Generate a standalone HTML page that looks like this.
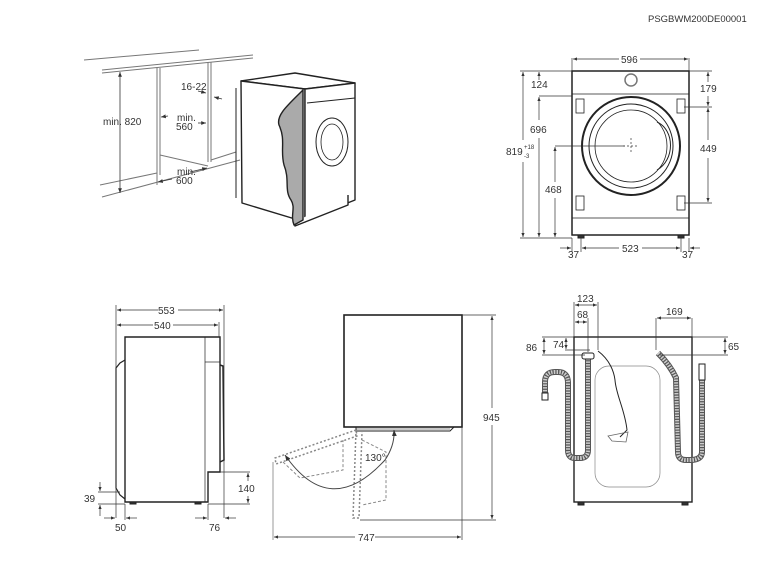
<!DOCTYPE html>
<html><head><meta charset="utf-8"><style>
html,body{margin:0;padding:0;background:#fff;}
svg{display:block;font-family:"Liberation Sans",sans-serif;}
text{font-size:10px;fill:#333;}
</style></head><body>
<svg width="767" height="579" viewBox="0 0 767 579" xmlns="http://www.w3.org/2000/svg">
<defs>
<marker id="a" viewBox="0 0 10 10" refX="10" refY="5" markerWidth="6" markerHeight="6" orient="auto-start-reverse"><path d="M0,1 L10,5 L0,9 z" fill="#333"/></marker>
</defs>
<text x="648" y="22" style="font-size:9.5px">PSGBWM200DE00001</text>

<!-- perspective cabinet -->
<g stroke="#777" stroke-width="1" fill="none">
<line x1="84" y1="60" x2="199" y2="50"/>
<line x1="102" y1="70" x2="253" y2="55"/>
<line x1="102" y1="73" x2="253" y2="58"/>
<line x1="157" y1="68" x2="157" y2="175"/>
<line x1="160" y1="68" x2="160" y2="175"/>
<line x1="208" y1="62" x2="208" y2="162"/>
<line x1="211" y1="62" x2="211" y2="162"/>
<line x1="160" y1="155" x2="208" y2="166"/>
<line x1="211" y1="160" x2="236" y2="152"/>
<line x1="100" y1="185" x2="157" y2="173"/>
<line x1="102" y1="197" x2="240" y2="160"/>
<line x1="157" y1="173" x2="157" y2="185"/>
</g>
<g stroke="#333" stroke-width="0.8" fill="none">
<line x1="120" y1="72" x2="120" y2="193" marker-start="url(#a)" marker-end="url(#a)"/>
<line x1="198" y1="91" x2="206" y2="93" marker-end="url(#a)"/>
<line x1="222" y1="99" x2="214" y2="97" marker-end="url(#a)"/>
<line x1="168" y1="116" x2="161" y2="117" marker-end="url(#a)"/>
<line x1="198" y1="123" x2="206" y2="123" marker-end="url(#a)"/>
<line x1="190" y1="172" x2="207" y2="168" marker-end="url(#a)"/>
<line x1="172" y1="179" x2="158" y2="182" marker-end="url(#a)"/>
</g>
<text x="103" y="125">min. 820</text>
<text x="181" y="90">16-22</text>
<text x="177" y="121">min.</text><text x="176" y="130">560</text>
<text x="177" y="175">min.</text><text x="176" y="184">600</text>

<!-- perspective machine -->
<g stroke="#222" stroke-width="1.4" fill="#fff" stroke-linejoin="round">
<polygon points="241,81 295,73 355,83 305,89"/>
<polygon points="241,81 305,89 305,222 242,203"/>
<polygon points="305,89 355,83 355,200 305,220"/>
<polyline points="348,195 348,205 295,226 295,222"/>
<line x1="307" y1="103" x2="355" y2="98" stroke-width="1"/>
<line x1="236" y1="88" x2="236" y2="198" stroke-width="1"/>
<ellipse cx="332" cy="142" rx="16" ry="24" fill="none" stroke-width="1"/>
<ellipse cx="332" cy="142" rx="11" ry="18" fill="none" stroke-width="0.8"/>
<path d="M303,90 L303,220 L294,225 C290,215 296,208 291,200 C284,190 290,180 284,165 C280,150 286,140 279,125 C276,115 288,105 303,90 Z" fill="#aaa"/>
</g>

<!-- front view -->
<g stroke="#222" fill="none">
<rect x="572" y="71" width="117" height="164" stroke-width="1.5"/>
<line x1="572" y1="94" x2="689" y2="94" stroke-width="0.8"/>
<line x1="572" y1="218" x2="689" y2="218" stroke-width="0.8"/>
<circle cx="631" cy="80" r="6" stroke-width="1.5" stroke="#777"/>
<circle cx="631" cy="146" r="49" stroke-width="2"/>
<circle cx="631" cy="146" r="42" stroke-width="1"/>
<circle cx="631" cy="146" r="36" stroke-width="0.8"/>
<path d="M657,122 C675,130 675,160 657,170" stroke-width="1"/>
<rect x="576" y="99" width="8" height="14" stroke-width="0.8"/>
<rect x="576" y="196" width="8" height="14" stroke-width="0.8"/>
<rect x="677" y="99" width="8" height="14" stroke-width="0.8"/>
<rect x="677" y="196" width="8" height="14" stroke-width="0.8"/>
<rect x="578" y="235" width="6" height="3" fill="#333"/>
<rect x="678" y="235" width="6" height="3" fill="#333"/>
</g>
<g stroke="#333" stroke-width="0.7" fill="none">
<line x1="572" y1="58" x2="572" y2="71"/><line x1="689" y1="58" x2="689" y2="71"/>
<line x1="573" y1="59" x2="619" y2="59" marker-start="url(#a)"/><line x1="640" y1="59" x2="688" y2="59" marker-end="url(#a)"/>
<line x1="520" y1="71" x2="572" y2="71"/><line x1="520" y1="238" x2="572" y2="238"/>
<line x1="523" y1="72" x2="523" y2="140" marker-start="url(#a)"/><line x1="523" y1="162" x2="523" y2="237" marker-end="url(#a)"/>
<line x1="539" y1="96" x2="572" y2="96"/>
<line x1="539" y1="72" x2="539" y2="80" marker-start="url(#a)"/><line x1="539" y1="97" x2="539" y2="120" marker-start="url(#a)"/><line x1="539" y1="138" x2="539" y2="237" marker-end="url(#a)"/>
<line x1="555" y1="146" x2="625" y2="146"/>
<line x1="555" y1="147" x2="555" y2="182" marker-start="url(#a)"/><line x1="555" y1="198" x2="555" y2="237" marker-end="url(#a)"/>
<line x1="689" y1="71" x2="712" y2="71"/><line x1="684" y1="107" x2="712" y2="107"/><line x1="684" y1="203" x2="712" y2="203"/>
<line x1="708" y1="72" x2="708" y2="82" marker-start="url(#a)"/><line x1="708" y1="96" x2="708" y2="106" marker-end="url(#a)"/>
<line x1="708" y1="108" x2="708" y2="140" marker-start="url(#a)"/><line x1="708" y1="158" x2="708" y2="202" marker-end="url(#a)"/>
<line x1="572" y1="238" x2="572" y2="252"/><line x1="689" y1="238" x2="689" y2="252"/>
<line x1="581" y1="238" x2="581" y2="252"/><line x1="681" y1="238" x2="681" y2="252"/>
<line x1="560" y1="248" x2="571" y2="248" marker-end="url(#a)"/><line x1="700" y1="248" x2="690" y2="248" marker-end="url(#a)"/>
<line x1="582" y1="248" x2="619" y2="248" marker-start="url(#a)"/><line x1="642" y1="248" x2="680" y2="248" marker-end="url(#a)"/>
<line x1="631" y1="138" x2="631" y2="154" stroke-dasharray="2,2"/><line x1="623" y1="146" x2="639" y2="146" stroke-dasharray="2,2"/>
</g>
<text x="621" y="63">596</text>
<text x="531" y="88">124</text>
<text x="530" y="133">696</text>
<text x="506" y="155">819</text><text x="524" y="149" style="font-size:6px">+18</text><text x="524" y="158" style="font-size:6px">-3</text>
<text x="545" y="193">468</text>
<text x="700" y="92">179</text>
<text x="700" y="152">449</text>
<text x="568" y="258">37</text>
<text x="622" y="252">523</text>
<text x="682" y="258">37</text>

<!-- side view -->
<g stroke="#222" fill="none">
<path d="M125,337 L220,337 L220,472 L208,472 L208,502 L125,502 Z" stroke-width="1.4"/>
<line x1="205" y1="337" x2="205" y2="502" stroke-width="0.7"/>
<line x1="205" y1="362" x2="220" y2="362" stroke-width="0.7"/>
<path d="M125,360 L120,363 L116,368 L116,488 L120,495 L125,499" stroke-width="1.2"/>
<path d="M220,365 L223,366 L224,460 L220,462" stroke-width="1.5"/>
<rect x="130" y="502" width="6" height="2" fill="#333"/><rect x="195" y="502" width="6" height="2" fill="#333"/>
</g>
<g stroke="#333" stroke-width="0.7" fill="none">
<line x1="116" y1="305" x2="116" y2="518"/><line x1="224" y1="305" x2="224" y2="518"/><line x1="219" y1="322" x2="219" y2="337"/>
<line x1="117" y1="310" x2="158" y2="310" marker-start="url(#a)"/><line x1="178" y1="310" x2="223" y2="310" marker-end="url(#a)"/>
<line x1="117" y1="325" x2="153" y2="325" marker-start="url(#a)"/><line x1="173" y1="325" x2="218" y2="325" marker-end="url(#a)"/>
<line x1="98" y1="492" x2="120" y2="492"/><line x1="98" y1="504" x2="125" y2="504"/>
<line x1="100" y1="482" x2="100" y2="491" marker-end="url(#a)"/><line x1="100" y1="516" x2="100" y2="505" marker-end="url(#a)"/>
<line x1="125" y1="504" x2="125" y2="520"/>
<line x1="104" y1="518" x2="115" y2="518" marker-end="url(#a)"/><line x1="137" y1="518" x2="126" y2="518" marker-end="url(#a)"/>
<line x1="208" y1="504" x2="208" y2="520"/>
<line x1="195" y1="518" x2="207" y2="518" marker-end="url(#a)"/><line x1="236" y1="518" x2="225" y2="518" marker-end="url(#a)"/>
<line x1="220" y1="472" x2="250" y2="472"/><line x1="208" y1="504" x2="250" y2="504"/>
<line x1="248" y1="473" x2="248" y2="481" marker-start="url(#a)"/><line x1="248" y1="496" x2="248" y2="503" marker-end="url(#a)"/>
</g>
<text x="158" y="314">553</text>
<text x="154" y="329">540</text>
<text x="84" y="502">39</text>
<text x="115" y="531">50</text>
<text x="209" y="531">76</text>
<text x="238" y="492">140</text>

<!-- plan view -->
<g stroke="#222" fill="none">
<rect x="344" y="315" width="118" height="112" stroke-width="1.6"/>
<path d="M356,427 L356,431 L450,431 L454,427" stroke-width="1"/>
<line x1="356" y1="429" x2="450" y2="429" stroke-width="0.6"/>
</g>
<g stroke="#888" stroke-width="1" fill="none" stroke-dasharray="3,2">
<path d="M356,430 L275,458 L276,464 L357,436 Z" stroke-dasharray="2,2" stroke-width="1.5"/>
<path d="M356,430 L353,518 L359,518 L362,432" stroke-dasharray="2,2" stroke-width="1.5"/>
<path d="M283,462 L300,478 L343,470 L343,440"/>
<path d="M362,440 L386,452 L386,500 L362,505"/>
<line x1="273" y1="462" x2="273" y2="540" stroke-dasharray="none" stroke="#999"/>
</g>
<path d="M285,455 Q330,520 385,460 Q395,445 394,430" stroke="#444" stroke-width="1" fill="none" marker-start="url(#a)" marker-end="url(#a)"/>
<text x="365" y="461">130°</text>
<g stroke="#333" stroke-width="0.7" fill="none">
<line x1="462" y1="315" x2="496" y2="315"/><line x1="360" y1="520" x2="496" y2="520"/>
<line x1="492" y1="316" x2="492" y2="408" marker-start="url(#a)"/><line x1="492" y1="425" x2="492" y2="519" marker-end="url(#a)"/>
<line x1="462" y1="427" x2="462" y2="540"/>
<line x1="274" y1="537" x2="355" y2="537" marker-start="url(#a)"/><line x1="375" y1="537" x2="461" y2="537" marker-end="url(#a)"/>
</g>
<text x="483" y="421">945</text>
<text x="358" y="541">747</text>

<!-- rear view -->
<g stroke="#222" fill="none">
<rect x="574" y="337" width="118" height="165" stroke-width="1.4"/>
<rect x="595" y="366" width="65" height="121" rx="14" stroke-width="0.7" stroke="#888"/>
<rect x="578" y="502" width="6" height="3" fill="#333"/><rect x="682" y="502" width="6" height="3" fill="#333"/>
<path d="M588,356 L588,450 Q588,458 580,458 L575,458 Q568,458 568,450 L568,383 Q568,372 558,372 L555,372 Q545,372 545,382 L545,393" stroke="#555" stroke-width="6"/>
<path d="M588,356 L588,450 Q588,458 580,458 L575,458 Q568,458 568,450 L568,383 Q568,372 558,372 L555,372 Q545,372 545,382 L545,393" stroke="#ccc" stroke-width="4" stroke-dasharray="1.5,1.2"/>
<rect x="582" y="353" width="12" height="6" rx="2" stroke-width="1" fill="#fff"/>
<rect x="542" y="393" width="6" height="7" stroke-width="1" fill="#fff"/>
<path d="M658,353 Q670,365 676,378 L678,452 Q678,460 686,460 L690,460 Q702,460 702,452 L702,380" stroke="#555" stroke-width="6"/>
<path d="M658,353 Q670,365 676,378 L678,452 Q678,460 686,460 L690,460 Q702,460 702,452 L702,380" stroke="#ccc" stroke-width="4" stroke-dasharray="1.5,1.2"/>
<rect x="699" y="364" width="6" height="16" stroke-width="1" fill="#fff"/>
<path d="M598,351 C610,360 614,372 615,380 C616,395 625,410 627,430 L620,437" stroke="#222" stroke-width="1"/>
<path d="M608,436 L628,432 L626,442 L612,441 Z" stroke-width="0.8" stroke="#666"/>
</g>
<g stroke="#333" stroke-width="0.7" fill="none">
<line x1="574" y1="302" x2="574" y2="337"/><line x1="598" y1="302" x2="598" y2="350"/><line x1="588" y1="318" x2="588" y2="352"/>
<line x1="575" y1="305" x2="597" y2="305" marker-start="url(#a)" marker-end="url(#a)"/>
<line x1="575" y1="322" x2="587" y2="322" marker-start="url(#a)" marker-end="url(#a)"/>
<line x1="656" y1="318" x2="656" y2="350"/><line x1="692" y1="318" x2="692" y2="337"/>
<line x1="657" y1="318" x2="691" y2="318" marker-start="url(#a)" marker-end="url(#a)"/>
<line x1="542" y1="337" x2="574" y2="337"/><line x1="542" y1="355" x2="585" y2="355"/><line x1="565" y1="350" x2="590" y2="350"/>
<line x1="544" y1="338" x2="544" y2="354" marker-start="url(#a)" marker-end="url(#a)"/>
<line x1="566" y1="338" x2="566" y2="349" marker-start="url(#a)" marker-end="url(#a)"/>
<line x1="692" y1="337" x2="728" y2="337"/><line x1="660" y1="355" x2="728" y2="355"/>
<line x1="725" y1="338" x2="725" y2="354" marker-start="url(#a)" marker-end="url(#a)"/>
</g>
<text x="577" y="302">123</text>
<text x="577" y="318">68</text>
<text x="526" y="351">86</text>
<text x="553" y="348">74</text>
<text x="666" y="315">169</text>
<text x="728" y="350">65</text>
</svg>
</body></html>
